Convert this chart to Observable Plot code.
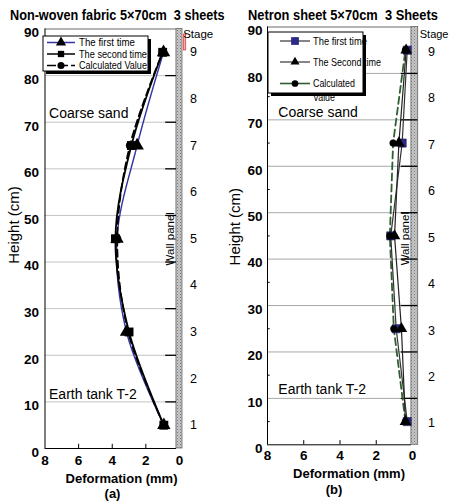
<!DOCTYPE html>
<html><head><meta charset="utf-8">
<script src="https://cdn.jsdelivr.net/npm/d3@7"></script>
<script src="https://cdn.jsdelivr.net/npm/@observablehq/plot@0.6"></script>
<style>
body{margin:0;background:#fff;}
#wrap{position:relative;width:449px;height:501px;overflow:hidden;}
.panel{position:absolute;top:0;}
.panel svg{overflow:visible;}
</style></head><body><div id="wrap"></div>
<script>
// ---------- data ----------
const heights = [5, 25, 45, 65, 85];               // measurement heights (cm)
const stages = [1, 2, 3, 4, 5, 6, 7, 8, 9];
const stageHeights = [5, 15, 25, 35, 45, 55, 65, 75, 85];
const yTicks = [0, 10, 20, 30, 40, 50, 60, 70, 80, 90];
const gridLevels = [10, 20, 30, 40, 50, 60, 70, 80];
const xTicks = [8, 6, 4, 2, 0];
const minorY = [5, 15, 25, 35, 45, 55, 65, 75, 85];
const seriesNames = ["The first time", "The second time", "Calculated Value"];
const seriesNamesB = ["The first time", "The Second time", "Calculated", "Value"];

// (a) Non-woven fabric
const aFirst  = [0.93, 3.15, 3.72, 2.52, 0.95];
const aSecond = [0.93, 3.00, 3.81, 2.86, 1.00];
const aCalc   = [0.93, 3.05, 3.70, 2.95, 1.00];
// (b) Netron sheet
const bFirst  = [0.29, 0.90, 1.20, 0.57, 0.29];
const bSecond = [0.39, 0.61, 0.99, 0.75, 0.35];
const bCalc   = [0.39, 1.03, 1.25, 1.07, 0.39];

const SANS = '"Liberation Sans",Arial,sans-serif';

const rows = vals => heights.map((h, i) => ({h, v: vals[i]}));

function addPattern(svg, id) {
  const defs = d3.select(svg).insert("defs", ":first-child");
  const p = defs.append("pattern").attr("id", id).attr("width", 3).attr("height", 3)
    .attr("patternUnits", "userSpaceOnUse");
  p.append("rect").attr("width", 3).attr("height", 3).attr("fill", "#c9c9c9");
  p.append("rect").attr("x", 0).attr("y", 0).attr("width", 1).attr("height", 1).attr("fill", "#777");
  p.append("rect").attr("x", 1.5).attr("y", 1.5).attr("width", 1).attr("height", 1).attr("fill", "#8a8a8a");
}

function addText(parent, t, x, y, o = {}) {
  const el = parent.append("text").text(t)
    .attr("x", x).attr("y", y)
    .attr("font-family", o.family || SANS)
    .attr("font-size", o.size || 13)
    .attr("font-weight", o.weight || "normal")
    .attr("text-anchor", o.anchor || "start")
    .attr("dominant-baseline", o.baseline || "central")
    .attr("fill", o.fill || "#000");
  if (o.fit) {
    const w = el.node().getComputedTextLength();
    const sx = w > 0 ? o.fit / w : 1;
    el.attr("x", 0).attr("y", 0).attr("transform", `translate(${x},${y}) scale(${sx},1)`);
  }
  if (o.rotate) el.attr("transform", `rotate(${o.rotate},${x},${y})`);
  return el;
}

function legend(svg, o) {
  const g = d3.select(svg).append("g");
  if (o.extra) addText(g, o.extra.label, o.tx, o.extra.y, {size: o.fs, fit: o.extra.len});
  g.append("rect").attr("x", o.x + 3).attr("y", o.y + 3).attr("width", o.w).attr("height", o.h).attr("fill", "#000");
  g.append("rect").attr("x", o.x).attr("y", o.y).attr("width", o.w).attr("height", o.h)
    .attr("fill", "#fff").attr("stroke", "#000").attr("stroke-width", 1);
  o.items.forEach(it => {
    g.append("line").attr("x1", o.lx1).attr("x2", o.lx2).attr("y1", it.y).attr("y2", it.y)
      .attr("stroke", it.stroke).attr("stroke-width", it.sw || 1.5)
      .attr("stroke-dasharray", it.dash || null);
    g.append("path").attr("d", d3.symbol(it.symbol, it.size)())
      .attr("transform", `translate(${o.mx},${it.y})`)
      .attr("fill", it.fill).attr("stroke", it.mstroke || "none");
    addText(g, it.label, o.tx, it.y, {size: o.fs, fit: it.len});
  });
}

const wrap = document.getElementById("wrap");
function mount(plot, left) {
  const d = document.createElement("div"); d.className = "panel"; d.style.left = left + "px";
  d.appendChild(plot); wrap.appendChild(d);
}

// ---------- panel (a) ----------
{
  const plot = Plot.plot({
    width: 225, height: 501,
    marginLeft: 44.5, marginRight: 43, marginTop: 28.5, marginBottom: 53,
    x: {domain: [8, -0.18], axis: null},
    y: {domain: [0, 90], axis: null},
    style: {fontFamily: SANS, overflow: "visible", background: "transparent"},
    marks: [
      Plot.ruleY(gridLevels, {x1: 8, x2: 0.18, stroke: "#c4c4c4", strokeWidth: 1}),
      Plot.ruleY([90], {x1: 8, x2: 0.18, stroke: "#444", strokeWidth: 0.8}),
      Plot.text(["Wall panel"], {x: 0.54, y: 45, rotate: -90, fontSize: 11.5, fill: "#000"}),
      Plot.text(["Coarse sand"], {x: 7.76, y: 71.8, textAnchor: "start", fontSize: 14}),
      Plot.text(["Earth tank T-2"], {x: 7.76, y: 11.6, textAnchor: "start", fontSize: 14}),
      Plot.rect([0], {x1: 0.18, x2: -0.18, y1: 0, y2: 90, fill: "url(#wallA)", stroke: "#666", strokeWidth: 0.8}),
      Plot.ruleY(gridLevels, {x1: 0.82, x2: 0.18, stroke: "#000", strokeWidth: 1.3}),
      Plot.rect([0], {x1: -0.26, x2: -0.40, y1: 85.4, y2: 88.8, fill: "#f6b0b0", stroke: "#e03a3a", strokeWidth: 0.8}),
      Plot.ruleX([8], {y1: 0, y2: 90, stroke: "#000", strokeWidth: 1}),
      Plot.ruleY([0], {x1: 8, x2: 0.18, stroke: "#000", strokeWidth: 1}),
      Plot.ruleX(xTicks.slice(1, 4), {y1: 0, y2: 0.9, stroke: "#000"}),
      Plot.axisY({ticks: yTicks, anchor: "left", tickSize: 0, tickPadding: 6, dy: 4, fontSize: 13.5, fontWeight: "bold", label: null}),
      Plot.axisX({ticks: xTicks, anchor: "bottom", tickSize: 0, tickPadding: 7, fontSize: 13.5, fontWeight: "bold", label: null}),
      Plot.text(stages, {x: -0.83, y: (d, i) => stageHeights[i], text: d => String(d), fontSize: 12.5}),
      Plot.text(["Stage"], {x: -0.22, y: 88.8, textAnchor: "start", fontSize: 11.5}),
      Plot.line(rows(aFirst), {x: "v", y: "h", curve: "catmull-rom", stroke: "#3434a4", strokeWidth: 1.4}),
      Plot.line(rows(aCalc), {x: "v", y: "h", curve: "catmull-rom", stroke: "#000", strokeWidth: 1.8, strokeDasharray: "7,4"}),
      Plot.line(rows(aSecond), {x: "v", y: "h", curve: "catmull-rom", stroke: "#000", strokeWidth: 1.8}),
      Plot.dot(rows(aCalc), {x: "v", y: "h", symbol: "circle", r: 4, fill: "#000"}),
      Plot.dot(rows(aFirst), {x: "v", y: "h", symbol: "triangle", r: 5, fill: "#000"}),
      Plot.dot(rows(aSecond), {x: "v", y: "h", symbol: "square", r: 5, fill: "#000"})
    ]
  });
  mount(plot, 0);
  addPattern(plot, "wallA");
  const s = d3.select(plot);
  addText(s, "Non-woven fabric 5×70cm  3 sheets", 10, 15, {size: 15, weight: "bold", fit: 215});
  addText(s, "Height (cm)", 13, 225, {size: 15, anchor: "middle", rotate: -90});
  addText(s, "Deformation (mm)", 121.5, 478, {size: 13, weight: "bold", anchor: "middle"});
  addText(s, "(a)", 112.5, 493, {size: 13, weight: "bold", anchor: "middle"});
  legend(plot, {
    x: 43, y: 36, w: 105, h: 35, lx1: 47, lx2: 75, mx: 61, tx: 79, fs: 11,
    items: [
      {y: 42.5, label: seriesNames[0], len: 56, stroke: "#3434a4", symbol: d3.symbolTriangle, size: 45, fill: "#000"},
      {y: 54, label: seriesNames[1], len: 68, stroke: "#000", symbol: d3.symbolSquare, size: 40, fill: "#000"},
      {y: 65.5, label: seriesNames[2], len: 68, stroke: "#000", symbol: d3.symbolCircle, size: 40, fill: "#000", dash: "9,3"}
    ]
  });
}

// ---------- panel (b) ----------
{
  const plot = Plot.plot({
    width: 224, height: 501,
    marginLeft: 42, marginRight: 31.3, marginTop: 26.5, marginBottom: 56.7,
    x: {domain: [8, -0.315], axis: null},
    y: {domain: [0, 90], axis: null},
    style: {fontFamily: SANS, overflow: "visible", background: "transparent"},
    marks: [
      Plot.ruleY(gridLevels, {x1: 8, x2: 0.06, stroke: "#a8a8a8", strokeWidth: 1}),
      Plot.ruleY([90], {x1: 8, x2: 0.06, stroke: "#444", strokeWidth: 0.8}),
      Plot.text(["Wall panel"], {x: 0.39, y: 44.4, rotate: -90, fontSize: 11.5, fill: "#000"}),
      Plot.text(["Coarse sand"], {x: 7.4, y: 71.5, textAnchor: "start", fontSize: 14}),
      Plot.text(["Earth tank T-2"], {x: 7.4, y: 12, textAnchor: "start", fontSize: 14}),
      Plot.rect([0], {x1: 0.06, x2: -0.315, y1: 0, y2: 90, fill: "url(#wallB)", stroke: "#666", strokeWidth: 0.8}),
      Plot.ruleY(gridLevels, {x1: 0.62, x2: -0.3, stroke: "#000", strokeWidth: 1.3}),
      Plot.ruleX([8], {y1: 0, y2: 90, stroke: "#000", strokeWidth: 1}),
      Plot.ruleY([0], {x1: 8, x2: 0.06, stroke: "#000", strokeWidth: 1}),
      Plot.ruleY(minorY, {x1: 8, x2: 7.85, stroke: "#000"}),
      Plot.ruleX(xTicks.slice(1, 4), {y1: 0, y2: 0.9, stroke: "#000"}),
      Plot.axisY({ticks: yTicks, anchor: "left", tickSize: 0, tickPadding: 5, dy: 4, fontSize: 13.5, fontWeight: "bold", label: null}),
      Plot.axisX({ticks: xTicks, anchor: "bottom", tickSize: 0, tickPadding: 6, fontSize: 13.5, fontWeight: "bold", label: null}),
      Plot.text(stages, {x: -1.05, y: (d, i) => stageHeights[i] - 0.4, text: d => String(d), fontSize: 12.5}),
      Plot.text(["Stage"], {x: -0.40, y: 88.4, textAnchor: "start", fontSize: 11}),
      Plot.line(rows(bCalc), {x: "v", y: "h", stroke: "#2f5f2f", strokeWidth: 1.8, strokeDasharray: "7,4"}),
      Plot.line(rows(bFirst), {x: "v", y: "h", stroke: "#333", strokeWidth: 1.2}),
      Plot.line(rows(bSecond), {x: "v", y: "h", stroke: "#222", strokeWidth: 1.2}),
      Plot.dot(rows(bFirst), {x: "v", y: "h", symbol: "square", r: 4.6, fill: "#2a2a86", stroke: "#1a1a50", strokeWidth: 0.6}),
      Plot.dot(rows(bSecond), {x: "v", y: "h", symbol: "triangle", r: 4.3, fill: "#000"}),
      Plot.dot(rows(bCalc), {x: "v", y: "h", symbol: "circle", r: 3.6, fill: "#000"})
    ]
  });
  mount(plot, 225);
  addPattern(plot, "wallB");
  const s = d3.select(plot);
  addText(s, "Netron sheet 5×70cm  3 Sheets", 23, 15, {size: 15, weight: "bold", fit: 190});
  addText(s, "Height (cm)", 10, 226.7, {size: 15, anchor: "middle", rotate: -90});
  addText(s, "Deformation (mm)", 124, 473, {size: 13, weight: "bold", anchor: "middle"});
  addText(s, "(b)", 109, 489, {size: 13, weight: "bold", anchor: "middle"});
  legend(plot, {
    x: 43, y: 32, w: 95, h: 61, lx1: 55, lx2: 85, mx: 70, tx: 88, fs: 11,
    extra: {label: seriesNamesB[3], y: 97.5, len: 22},
    items: [
      {y: 41, label: seriesNamesB[0], len: 54, stroke: "#333", symbol: d3.symbolSquare, size: 60, fill: "#2a2a86", sw: 1.2},
      {y: 62, label: seriesNamesB[1], len: 68, stroke: "#333", symbol: d3.symbolTriangle, size: 35, fill: "#000", sw: 1.2},
      {y: 83.5, label: seriesNamesB[2], len: 42, stroke: "#2f5f2f", symbol: d3.symbolCircle, size: 35, fill: "#000", sw: 1.6}
    ]
  });
}
</script></body></html>
